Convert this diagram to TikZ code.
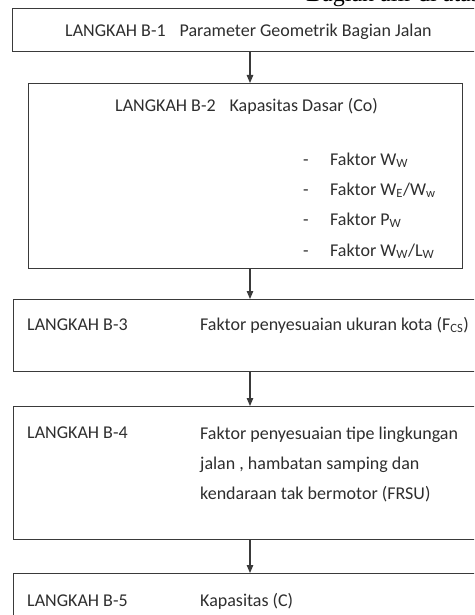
\documentclass[tikz,border=0pt]{standalone}
\usepackage{fontspec}
\setmainfont{Carlito}
\newfontfamily\serifx{Liberation Serif}
\usetikzlibrary{arrows.meta}
\definecolor{lineg}{HTML}{3A3A3A}
\definecolor{textg}{HTML}{2E2E2E}
\tikzset{
  stepbox/.style={draw=lineg, line width=1.2pt, rectangle, inner sep=0pt, anchor=north west},
  txt/.style={anchor=base west, inner sep=0pt, text=textg, font=\fontsize{18}{22}\selectfont},
  flow/.style={draw=lineg, line width=1.2pt, -{Triangle[length=8pt,width=6.5pt]}}
}
\begin{document}
\begin{tikzpicture}[x=1pt,y=-1pt]
\useasboundingbox (0,0) rectangle (474,615);
\clip (0,0) rectangle (474,615);
\node[anchor=base west, inner sep=0pt, font=\serifx\fontsize{24}{26}\selectfont] (hdr) at (306,1.5) {Bagian alir di atas};
\node[stepbox, minimum width=475pt, minimum height=43pt] (b1) at (12,8) {};
\node[stepbox, minimum width=434pt, minimum height=185pt] (b2) at (28,83) {};
\node[stepbox, minimum width=475pt, minimum height=72pt] (b3) at (13,299) {};
\node[stepbox, minimum width=475pt, minimum height=133pt] (b4) at (13,406) {};
\node[stepbox, minimum width=475pt, minimum height=80pt] (b5) at (13,573) {};
\coordinate (ax) at (250,0);
\draw[flow] (b1.south -| ax) -- (b2.north -| ax);
\draw[flow] (b2.south -| ax) -- (b3.north -| ax);
\draw[flow] (b3.south -| ax) -- (b4.north -| ax);
\draw[flow] (b4.south -| ax) -- (b5.north -| ax);
\node[txt] (t1) at (65,37) {LANGKAH B-1\hspace{14pt}Parameter Geometrik Bagian Jalan};
\node[txt] (t2) at (115,112) {LANGKAH B-2\hspace{14pt}Kapasitas Dasar (Co)};
\node[txt] (d1) at (303,165) {-};
\node[txt] (d2) at (303,195) {-};
\node[txt] (d3) at (303,225) {-};
\node[txt] (d4) at (303,256) {-};
\node[txt] (f1) at (330,165) {Faktor W\textsubscript{W}};
\node[txt] (f2) at (330,195) {Faktor W\textsubscript{E}/W\textsubscript{w}};
\node[txt] (f3) at (330,225) {Faktor P\textsubscript{W}};
\node[txt] (f4) at (330,256) {Faktor W\textsubscript{W}/L\textsubscript{W}};
\node[txt] (l3) at (27,330) {LANGKAH B-3};
\node[txt] (r3) at (200,330) {Faktor penyesuaian ukuran kota (F\textsubscript{CS})};
\node[txt] (l4) at (27,438) {LANGKAH B-4};
\node[txt] (r4a) at (200,439) {Faktor penyesuaian tipe lingkungan};
\node[txt] (r4b) at (200,469) {jalan , hambatan samping dan};
\node[txt] (r4c) at (200,499) {kendaraan tak bermotor (FRSU)};
\node[txt] (l5) at (27,606) {LANGKAH B-5};
\node[txt] (r5) at (200,606) {Kapasitas (C)};
\end{tikzpicture}
\end{document}
